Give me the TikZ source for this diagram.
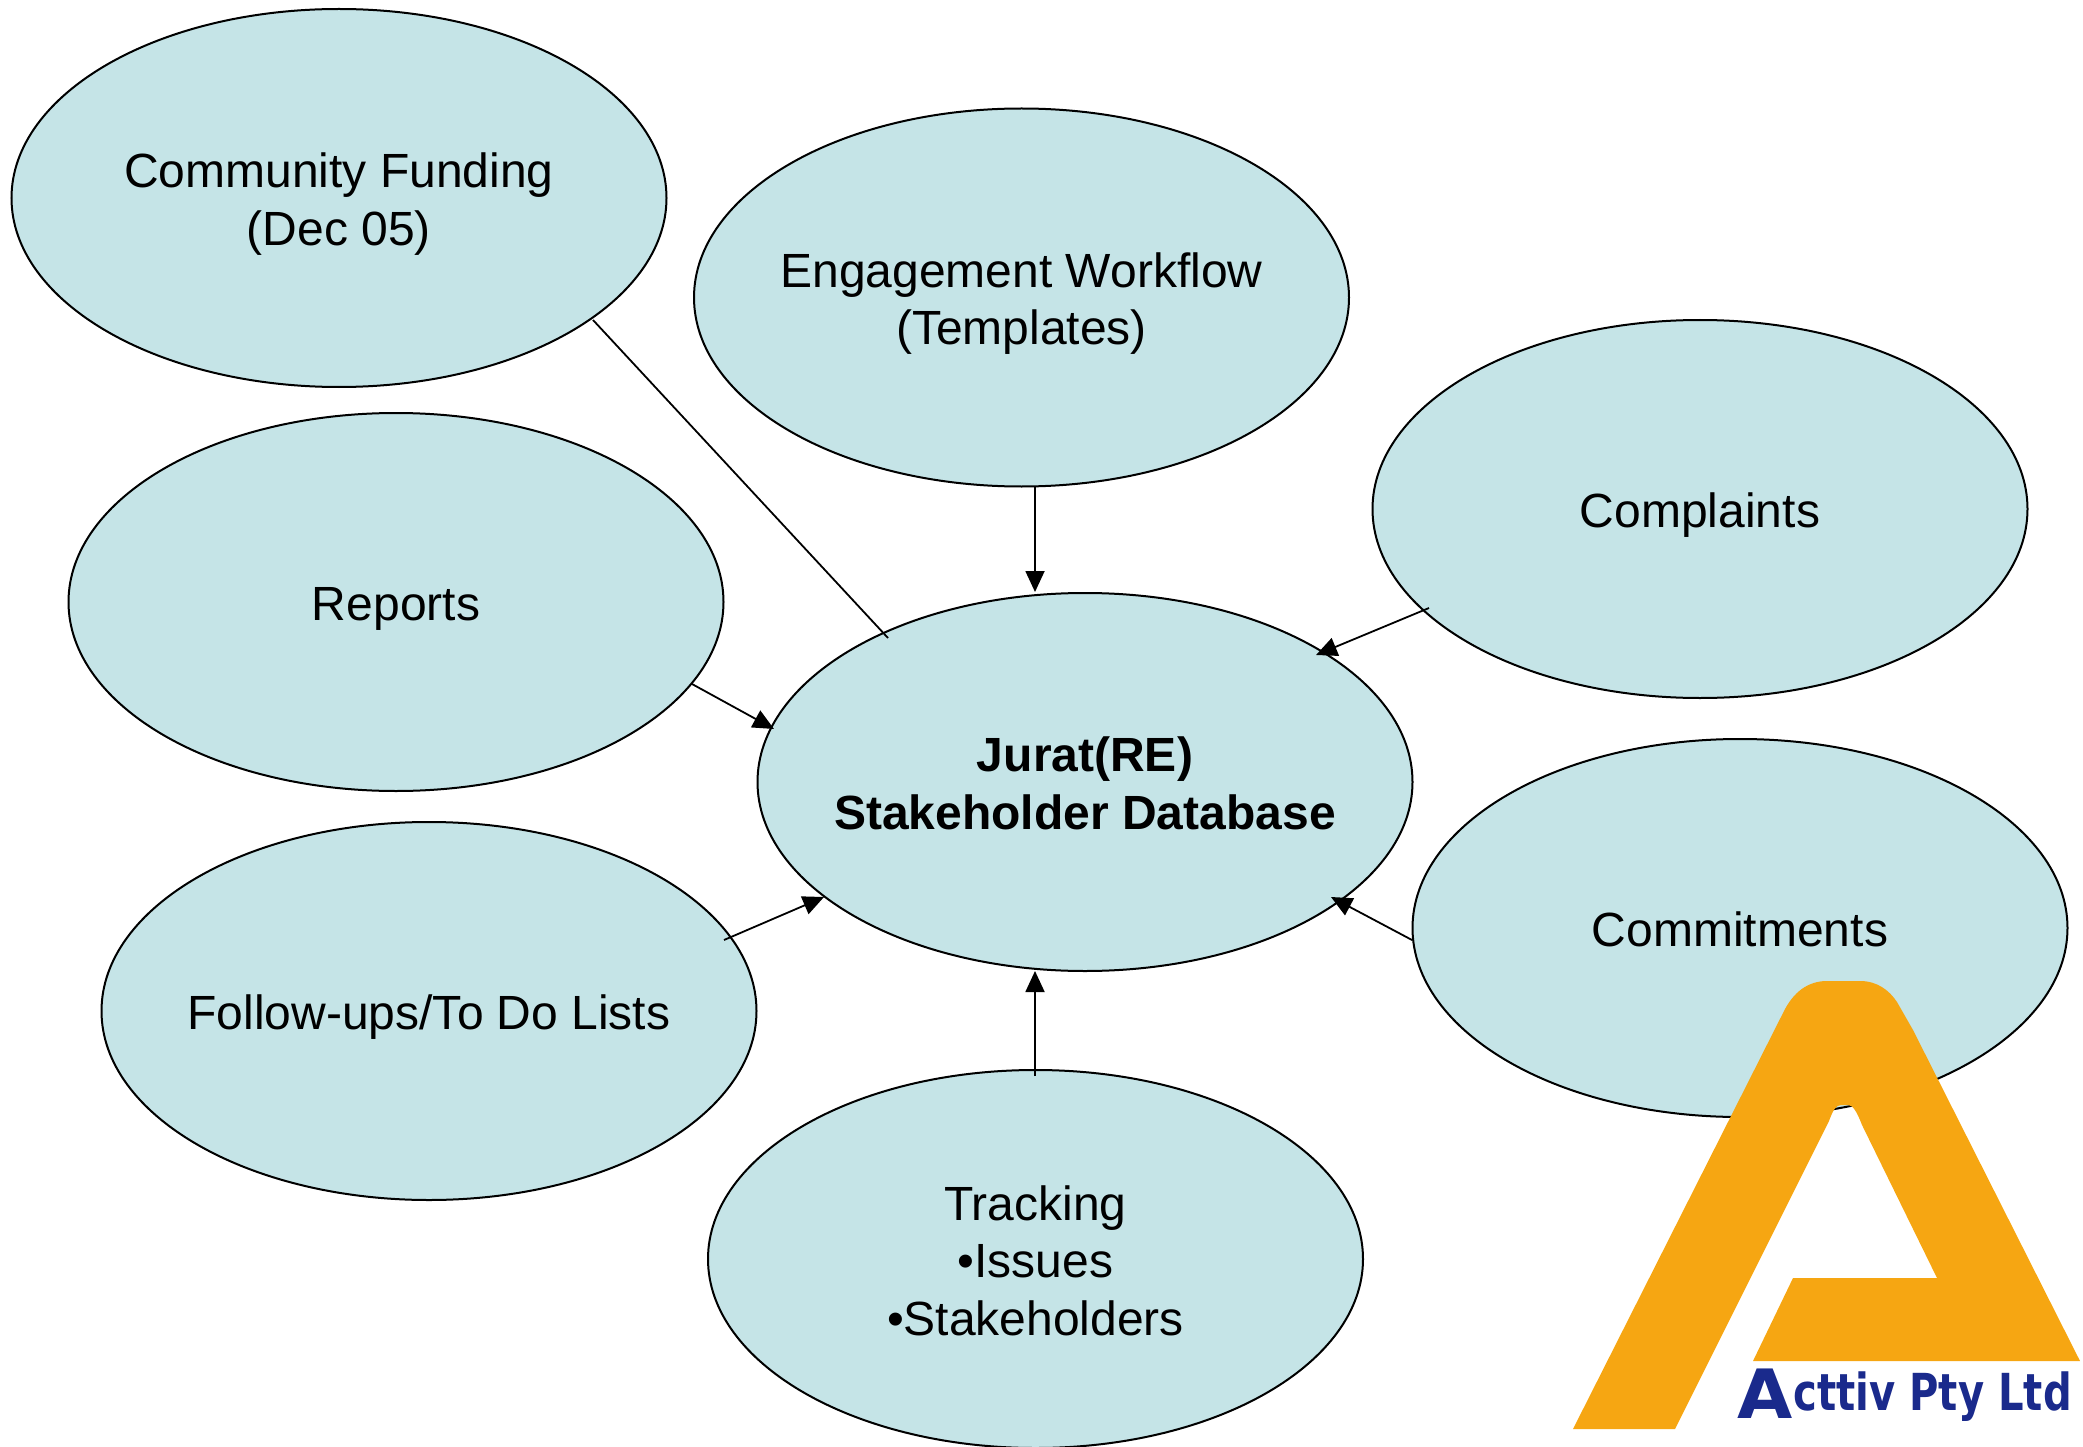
\documentclass[tikz,border=0pt]{standalone}
\usepackage{graphicx}
\usepackage{fontspec}
\setmainfont{Liberation Sans}
\newfontfamily\logofont{DejaVu Sans}
\usetikzlibrary{shapes.geometric,arrows.meta}
\definecolor{bubble}{HTML}{C5E4E7}
\definecolor{logoorange}{HTML}{F6A612}
\definecolor{logoblue}{HTML}{1A2A8C}
\tikzset{
  bubble/.style={ellipse,draw=black,line width=2pt,fill=bubble,minimum width=655pt,minimum height=378pt,inner sep=0pt},
  btext/.style={inner sep=0pt,align=center,font=\fontsize{48}{57.5}\selectfont},
  link/.style={draw=black,line width=1.8pt},
  feed/.style={link,-{Triangle[length=21pt,width=19pt]}}
}
\begin{document}
\begin{tikzpicture}[x=1pt,y=-1pt]
\useasboundingbox (0,0) rectangle (2083,1447);
\node[bubble] (fund) at (339,198) {};
\node[bubble] (eng) at (1021.5,297.5) {};
\node[bubble] (comp) at (1700,509) {};
\node[bubble] (rep) at (396,602) {};
\node[bubble] (follow) at (429,1011) {};
\node[bubble] (commit) at (1740,928) {};
\node[bubble] (track) at (1035.5,1259) {};
\node[bubble] (jur) at (1085,782) {};
\node[btext,yshift=-6pt] (fundt) at (fund) {Community Funding\\(Dec 05)};
\node[btext,yshift=-6pt] (engt) at (eng) {Engagement Workflow\\(Templates)};
\node[btext,yshift=-6.5pt] (compt) at (comp) {Complaints};
\node[btext,yshift=-6.5pt] (rept) at (rep) {Reports};
\node[btext,yshift=-6.5pt] (followt) at (follow) {Follow-ups/To Do Lists};
\node[btext,yshift=-1.5pt] (committ) at (commit) {Commitments};
\node[btext,yshift=-1.5pt] (trackt) at (track) {Tracking\\•Issues\\•Stakeholders};
\node[btext,yshift=-1.5pt] (jurt) at (jur) {\textbf{Jurat(RE)}\\\textbf{Stakeholder Database}};
\coordinate (a1) at (593,320); \coordinate (a2) at (888,638);
\coordinate (b1) at (1035,486); \coordinate (b2) at (1035,592);
\coordinate (c1) at (1429,608); \coordinate (c2) at (1316,655);
\coordinate (d1) at (692,684); \coordinate (d2) at (774,729);
\coordinate (e1) at (724,940); \coordinate (e2) at (824,897);
\coordinate (f1) at (1412,940); \coordinate (f2) at (1331,897);
\coordinate (g1) at (1035,1076); \coordinate (g2) at (1035,971);
\draw[link] (a1) -- (a2);
\draw[feed] (b1) -- (b2);
\draw[feed] (c1) -- (c2);
\draw[feed] (d1) -- (d2);
\draw[feed] (e1) -- (e2);
\draw[feed] (f1) -- (f2);
\draw[feed] (g1) -- (g2);
\fill[logoorange] (1573,1429) -- (1675,1429) -- (1829,1121)
  .. controls (1833,1110) and (1836,1105) .. (1841,1105)
  -- (1848,1105) .. controls (1853,1105) and (1857,1112) .. (1862,1125)
  -- (1937,1278) -- (1793,1278) -- (1753,1361) -- (2080,1361)
  -- (1913,1030) -- (1897,1002) .. controls (1889,990) and (1877,981) .. (1860,981)
  -- (1827,981) .. controls (1808,981) and (1793,992) .. (1783,1013) -- cycle;
\node[anchor=base west,inner sep=0pt,text=logoblue,font=\logofont\bfseries] (logo) at (1737,1410) {\raisebox{-8pt}{\scalebox{1.05}[1]{\fontsize{68}{68}\selectfont A}}\hspace{1pt}\scalebox{0.787}[1]{\fontsize{51}{55}\selectfont cttiv Pty Ltd}};
\end{tikzpicture}
\end{document}
